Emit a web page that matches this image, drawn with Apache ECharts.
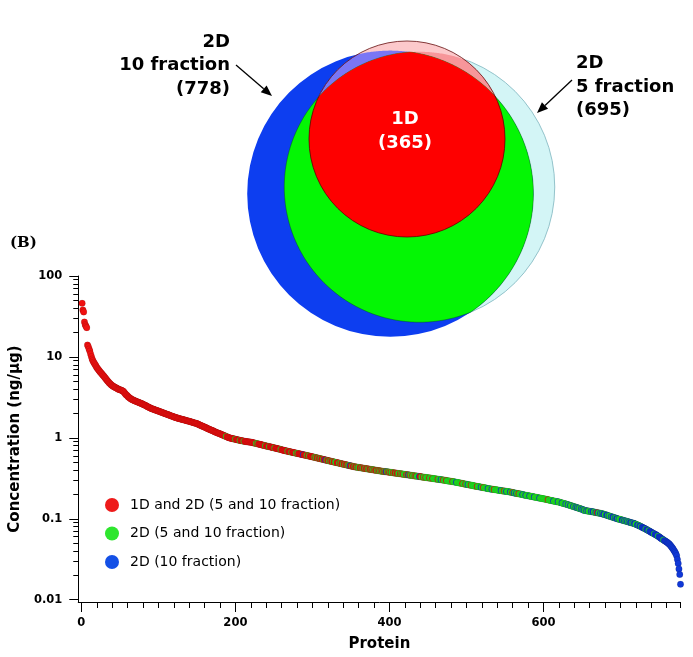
<!DOCTYPE html>
<html><head><meta charset="utf-8">
<script src="https://cdn.jsdelivr.net/npm/echarts@6/dist/echarts.min.js"></script>
<style>html,body{margin:0;padding:0;background:#fff}#c{width:693px;height:657px}</style>
</head><body><div id="c"></div>
<script>
// ---------------- DATA ----------------
const vennNames = ['2D\n10 fraction', '2D\n5 fraction', '1D'];
const vennCounts = [778, 695, 365];
const seriesNames = ['1D and 2D (5 and 10 fraction)', '2D (5 and 10 fraction)', '2D (10 fraction)'];
const xTickValues = [0, 200, 400, 600];
const xTickLabels = ['0', '200', '400', '600'];
const yTickValues = [0.01, 0.1, 1, 10, 100];
const yTickLabels = ['0.01', '0.1', '1', '10', '100'];

// protein concentration (ng/µg), rank 1..778
const concentration = [
46,38,36,27,25,24,23,14,13.4,12.5,
11.8,10.9,10.1,9.4,9.0,8.6,8.3,8.0,7.7,7.4,
7.2,7.0,6.8,6.6,6.4,6.3,6.1,5.95,5.8,5.65,
5.5,5.35,5.2,5.05,4.95,4.8,4.7,4.6,4.5,4.42,
4.35,4.3,4.25,4.2,4.15,4.1,4.05,4.0,3.97,3.94,
3.9,3.87,3.83,3.78,3.7,3.6,3.5,3.42,3.35,3.28,
3.2,3.15,3.1,3.05,3.0,2.97,2.94,2.91,2.88,2.85,
2.83,2.8,2.78,2.75,2.73,2.7,2.68,2.65,2.63,2.6,
2.57,2.55,2.52,2.49,2.46,2.43,2.41,2.38,2.35,2.33,
2.3,2.28,2.27,2.25,2.23,2.21,2.19,2.18,2.16,2.14,
2.12,2.11,2.09,2.07,2.06,2.04,2.02,2.01,1.99,1.97,
1.96,1.94,1.93,1.91,1.89,1.88,1.86,1.85,1.83,1.82,
1.8,1.79,1.78,1.77,1.75,1.74,1.73,1.72,1.71,1.7,
1.69,1.68,1.67,1.66,1.65,1.64,1.63,1.62,1.61,1.6,
1.59,1.58,1.57,1.56,1.55,1.54,1.53,1.52,1.51,1.5,
1.48,1.47,1.45,1.44,1.42,1.41,1.4,1.38,1.37,1.36,
1.34,1.33,1.32,1.3,1.29,1.28,1.27,1.25,1.24,1.23,
1.22,1.21,1.19,1.18,1.17,1.16,1.15,1.14,1.13,1.12,
1.11,1.1,1.09,1.08,1.07,1.06,1.05,1.04,1.03,1.02,
1.01,1.0,0.995,0.99,0.985,0.98,0.975,0.97,0.965,0.96,
0.955,0.95,0.945,0.94,0.935,0.93,0.926,0.922,0.918,0.914,
0.91,0.906,0.902,0.899,0.896,0.893,0.891,0.889,0.887,0.885,
0.88,0.875,0.87,0.866,0.861,0.856,0.852,0.847,0.843,0.838,
0.834,0.829,0.825,0.82,0.816,0.812,0.807,0.803,0.799,0.794,
0.79,0.786,0.782,0.778,0.774,0.77,0.766,0.762,0.758,0.754,
0.75,0.746,0.742,0.738,0.734,0.73,0.726,0.722,0.718,0.714,
0.71,0.705,0.7,0.697,0.693,0.69,0.686,0.683,0.679,0.676,
0.673,0.669,0.666,0.663,0.659,0.656,0.653,0.65,0.647,0.643,
0.64,0.637,0.634,0.631,0.628,0.625,0.622,0.619,0.616,0.613,
0.61,0.607,0.604,0.601,0.598,0.595,0.592,0.589,0.586,0.583,
0.58,0.577,0.574,0.571,0.568,0.565,0.562,0.559,0.556,0.553,
0.55,0.547,0.544,0.541,0.539,0.536,0.533,0.53,0.527,0.525,
0.522,0.519,0.517,0.514,0.511,0.509,0.506,0.503,0.501,0.498,
0.496,0.493,0.491,0.488,0.486,0.483,0.481,0.478,0.476,0.473,
0.471,0.469,0.466,0.464,0.461,0.459,0.457,0.454,0.452,0.45,
0.448,0.445,0.443,0.44,0.438,0.437,0.435,0.434,0.432,0.431,
0.429,0.428,0.426,0.425,0.423,0.422,0.42,0.419,0.417,0.416,
0.414,0.413,0.411,0.41,0.408,0.407,0.405,0.404,0.403,0.401,
0.4,0.398,0.397,0.396,0.394,0.393,0.392,0.39,0.389,0.388,
0.386,0.385,0.384,0.383,0.382,0.381,0.38,0.379,0.378,0.376,
0.375,0.374,0.373,0.372,0.37,0.369,0.368,0.367,0.366,0.365,
0.363,0.362,0.361,0.36,0.359,0.358,0.357,0.355,0.354,0.353,
0.352,0.351,0.35,0.349,0.348,0.347,0.346,0.344,0.343,0.342,
0.341,0.34,0.339,0.338,0.337,0.336,0.335,0.334,0.333,0.332,
0.33,0.329,0.328,0.327,0.326,0.325,0.324,0.323,0.322,0.321,
0.32,0.319,0.318,0.317,0.316,0.315,0.314,0.313,0.312,0.311,
0.31,0.309,0.308,0.307,0.306,0.305,0.304,0.303,0.302,0.301,
0.3,0.299,0.298,0.297,0.295,0.294,0.293,0.292,0.291,0.29,
0.289,0.288,0.287,0.286,0.285,0.283,0.282,0.281,0.28,0.279,
0.277,0.276,0.275,0.274,0.273,0.271,0.27,0.269,0.268,0.267,
0.266,0.264,0.263,0.262,0.261,0.26,0.259,0.258,0.257,0.255,
0.254,0.253,0.252,0.251,0.25,0.249,0.248,0.247,0.246,0.245,
0.244,0.243,0.242,0.241,0.24,0.239,0.237,0.236,0.235,0.235,
0.234,0.233,0.232,0.231,0.231,0.23,0.229,0.228,0.228,0.227,
0.226,0.225,0.224,0.224,0.223,0.222,0.221,0.221,0.22,0.219,
0.219,0.218,0.217,0.217,0.216,0.215,0.214,0.213,0.212,0.211,
0.21,0.209,0.208,0.207,0.206,0.205,0.204,0.204,0.203,0.202,
0.201,0.2,0.199,0.198,0.197,0.196,0.195,0.194,0.194,0.193,
0.192,0.191,0.19,0.189,0.189,0.188,0.187,0.186,0.185,0.185,
0.184,0.183,0.182,0.181,0.181,0.18,0.179,0.178,0.177,0.177,
0.176,0.175,0.174,0.173,0.173,0.172,0.171,0.17,0.169,0.168,
0.168,0.167,0.166,0.165,0.165,0.164,0.163,0.162,0.162,0.161,
0.16,0.159,0.158,0.157,0.156,0.155,0.154,0.153,0.152,0.151,
0.15,0.149,0.148,0.147,0.146,0.145,0.144,0.143,0.142,0.141,
0.14,0.139,0.138,0.137,0.136,0.135,0.134,0.133,0.132,0.131,
0.13,0.128,0.127,0.127,0.126,0.126,0.125,0.125,0.124,0.124,
0.123,0.123,0.122,0.122,0.121,0.121,0.12,0.12,0.119,0.119,
0.118,0.118,0.117,0.117,0.116,0.115,0.115,0.114,0.113,0.112,
0.112,0.111,0.11,0.109,0.108,0.108,0.107,0.106,0.105,0.105,
0.104,0.103,0.102,0.102,0.101,0.1,0.0995,0.099,0.0985,0.098,
0.0973,0.0966,0.096,0.0954,0.0948,0.0942,0.0936,0.093,0.0924,0.0918,
0.0912,0.0906,0.09,0.0894,0.0888,0.0884,0.088,0.0872,0.0864,0.0856,
0.0848,0.084,0.0832,0.0824,0.0815,0.0806,0.0797,0.0788,0.0779,0.077,
0.0762,0.0754,0.0745,0.0736,0.0727,0.0718,0.0709,0.07,0.069,0.0682,
0.0674,0.0666,0.0658,0.065,0.0642,0.0634,0.0626,0.0618,0.061,0.0601,
0.0592,0.058,0.0572,0.0564,0.0556,0.0548,0.054,0.0532,0.0524,0.0516,
0.0508,0.05,0.049,0.048,0.0468,0.0455,0.0442,0.0428,0.0414,0.04,
0.0385,0.037,0.035,0.0315,0.028,0.024,0.0205,0.0155
];

// group of each protein (r = 1D and 2D, g = 2D 5&10, b = 2D 10 only), 10 per block
const groupBlocks = [
'rrrrrrrrrr','rrrrrrrrrr','rrrrrrrrrr','rrrrrrrrrr','rrrrrrrrrr','rrrrrrrrrr',
'rrrrrrrrrr','rrrrrrrrrr','rrrrrrrrrr','rrrrrrrrrr','rrrrrrrrrr','rrrrrrrrrr',
'rrrrrrrrrr','rrrrrrrrrr','rrrrrrrrrr','rrrrrrrrrr','rrrrrrrrrr','rrrrrrrrrr',
'rrrrrrrgrr','rrrrrrrrrg','rrrrrgrrrr','grrrrrrrrr','rrrrrrgrgr','rrrrrrrrgr',
'rrrgrrrrrr','grrrrrrrgr','rrrrrrrgrr','rrgrrrrrgr','grrrrrrbrr','rrgrrgrrrr',
'rrgrgrrgrr','grrgrrbrgr','rgrgrrgrrg','grrrgrgrrg','rrgrrgrgbr','rgrrgrrgrg',
'grrgrgrrgr','rgrgrrgrgr','grrgrgrgrg','rgrgrbgrgr','grggrgrrgr','rggrgrgrgg',
'grgrbgrggr','ggrgrgggbr','rggrggrggg','grgggrgggg','ggrgggbggr','gggrgggggg',
'grggggbggg','ggggrgggrg','gbgggrgggg','gggrggggbg','grgggggbgg','ggbggrgggg',
'ggggbgggrg','gbggggbggr','gbggbggrgg','ggbgggbggg','gbgggggbgg','ggggbggggg',
'gggggrgggg','ggbgggggbg','gggbggggbg','gbggbgggbg','gbgbgbggbg','bgbggbgbgg',
'gbgbbggbgr','bggbgbgbbg','gbbgbggbgb','bgbgbbgbgg','gbbgbgbgbg','bgbbgbgbbg',
'gbbgbbgbbb','bbgbbbgbbb','bbbgbbbbgb','bbbbbgbbbb','bbbbbbbbbb','bbbbbbbb'
];

// ---------------- STYLE / LAYOUT ----------------
const dotColors = { r: '#f01010', g: '#22ee22', b: '#1038d8' };
const legendColors = ['#ee1a1a', '#2ee62e', '#1450e6'];
const vennLayout = [ { cx: 190.3, cy: 173.7 }, { cx: 219.5, cy: 167 }, { cx: 207, cy: 119 } ];
const VENN_SCALE = 5.13;
const FONT = 'DejaVu Sans';

const groups = groupBlocks.join('');

function intersect(circles) {
  const pts = [];
  const N = 720;
  circles.forEach((c, i) => {
    for (let k = 0; k < N; k++) {
      const a = k / N * Math.PI * 2;
      const p = [c.cx + c.r * Math.cos(a), c.cy + c.r * Math.sin(a)];
      if (circles.every((o, j) => j === i || Math.hypot(p[0] - o.cx, p[1] - o.cy) <= o.r + 1e-6)) pts.push(p);
    }
  });
  if (!pts.length) return [];
  let mx = 0, my = 0;
  pts.forEach(p => { mx += p[0]; my += p[1]; });
  mx /= pts.length; my /= pts.length;
  pts.sort((p, q) => Math.atan2(p[1] - my, p[0] - mx) - Math.atan2(q[1] - my, q[0] - mx));
  return pts;
}

function renderVenn(params, api) {
  const c = vennLayout.map((l, i) => {
    const p = api.coord([l.cx, l.cy]);
    const r = api.size([VENN_SCALE * Math.sqrt(vennCounts[i]), 0])[0];
    return { cx: p[0], cy: p[1], r: r };
  });
  const B = c[0], C = c[1], R = c[2];
  return { type: 'group', children: [
    { type: 'circle', shape: C, style: { fill: '#d3f5f6', stroke: '#93c3cb', lineWidth: 1 } },
    { type: 'circle', shape: B, style: { fill: '#0d3ef0' } },
    { type: 'circle', shape: R, style: { fill: '#fcc9cb' } },
    { type: 'polygon', shape: { points: intersect([R, C]) }, style: { fill: '#f7969a' } },
    { type: 'polygon', shape: { points: intersect([R, B]) }, style: { fill: '#7a76f5' } },
    { type: 'polygon', shape: { points: intersect([B, C]) }, style: { fill: '#04f604', stroke: 'rgba(0,70,0,0.5)', lineWidth: 0.8 } },
    { type: 'polygon', shape: { points: intersect([R, B, C]) }, style: { fill: '#fe0000' } },
    { type: 'circle', shape: R, style: { fill: null, stroke: 'rgba(90,0,0,0.75)', lineWidth: 1 } }
  ]};
}

function arrow(x1, y1, x2, y2) {
  const L = Math.hypot(x2 - x1, y2 - y1), dx = (x2 - x1) / L, dy = (y2 - y1) / L;
  const hl = 11, hw = 4.5, bx = x2 - dx * hl, by = y2 - dy * hl;
  return [
    { type: 'line', shape: { x1: x1, y1: y1, x2: bx, y2: by }, style: { stroke: '#000', lineWidth: 1.3 } },
    { type: 'polygon', shape: { points: [[x2, y2], [bx - dy * hw, by + dx * hw], [bx + dy * hw, by - dx * hw]] }, style: { fill: '#000' } }
  ];
}

const labelText = (v, vals, labs) => {
  for (let i = 0; i < vals.length; i++) if (Math.abs(Math.log10(v) - Math.log10(vals[i])) < 1e-6) return labs[i];
  return '';
};

const minorX = [];
for (let v = 20; v < 778; v += 20) minorX.push(v);
minorX.push(778);
const minorY = [];
[0.01, 0.1, 1, 10].forEach(d => { for (let k = 2; k <= 9; k++) minorY.push(+(d * k).toPrecision(3)); });

const scatterData = concentration.map((v, i) => ({
  value: [i + 1, v],
  itemStyle: { color: dotColors[groups[i] || 'g'] }
}));

const chart = echarts.init(document.getElementById('c'), null, { renderer: 'canvas' });
chart.setOption({
  animation: false,
  backgroundColor: '#fff',
  grid: [
    { left: 77, top: 276, width: 603.5, height: 329 },
    { left: 200, top: 20, width: 400, height: 340 }
  ],
  xAxis: [
    { type: 'value', gridIndex: 0, min: -4, max: 778, position: 'bottom',
      axisLine: { onZero: false, lineStyle: { color: '#000', width: 1 } },
      axisTick: { customValues: xTickValues, length: 10, lineStyle: { color: '#000' } },
      axisLabel: { customValues: xTickValues, formatter: v => xTickLabels[xTickValues.indexOf(Math.round(v))] || '',
        margin: 15, color: '#000', fontFamily: FONT, fontWeight: 'bold', fontSize: 11.5 },
      splitLine: { show: false },
      name: 'Protein', nameLocation: 'middle', nameGap: 35,
      nameTextStyle: { color: '#000', fontFamily: FONT, fontWeight: 'bold', fontSize: 15 } },
    { type: 'value', gridIndex: 0, min: -4, max: 778, position: 'bottom',
      axisLine: { show: false, onZero: false },
      axisTick: { customValues: minorX, length: 6, lineStyle: { color: '#000' } },
      axisLabel: { show: false }, splitLine: { show: false } },
    { type: 'value', gridIndex: 1, min: 0, max: 400, show: false }
  ],
  yAxis: [
    { type: 'log', logBase: 10, gridIndex: 0, min: 0.00937, max: 100, position: 'left',
      axisLine: { show: true, onZero: false, lineStyle: { color: '#000', width: 1 } },
      axisTick: { show: true, customValues: yTickValues, length: 9, lineStyle: { color: '#000' } },
      axisLabel: { customValues: yTickValues, formatter: v => labelText(v, yTickValues, yTickLabels),
        margin: 16, color: '#000', fontFamily: FONT, fontWeight: 'bold', fontSize: 11.5 },
      splitLine: { show: false },
      name: 'Concentration (ng/µg)', nameLocation: 'middle', nameGap: 49,
      nameTextStyle: { color: '#000', fontFamily: FONT, fontWeight: 'bold', fontSize: 15 } },
    { type: 'log', logBase: 10, gridIndex: 0, min: 0.00937, max: 100, position: 'left',
      axisLine: { show: false, onZero: false },
      axisTick: { show: true, customValues: minorY, length: 5, lineStyle: { color: '#000' } },
      axisLabel: { show: false }, splitLine: { show: false } },
    { type: 'value', gridIndex: 1, min: 0, max: 340, inverse: true, show: false }
  ],
  legend: {
    data: seriesNames, orient: 'vertical', left: 105, top: 498, padding: 0,
    itemWidth: 14, itemHeight: 14, itemGap: 14.5, icon: 'circle',
    textStyle: { color: '#000', fontFamily: FONT, fontSize: 14, padding: [0, 0, 0, 6] }
  },
  series: [
    { type: 'scatter', name: 'proteins', xAxisIndex: 0, yAxisIndex: 0, data: scatterData,
      symbol: 'circle', symbolSize: 6.5, itemStyle: { borderColor: 'rgba(0,0,0,0.22)', borderWidth: 0.5, opacity: 1 }, silent: true },
    { type: 'scatter', name: seriesNames[0], data: [], itemStyle: { color: legendColors[0], opacity: 1 } },
    { type: 'scatter', name: seriesNames[1], data: [], itemStyle: { color: legendColors[1], opacity: 1 } },
    { type: 'scatter', name: seriesNames[2], data: [], itemStyle: { color: legendColors[2], opacity: 1 } },
    { type: 'custom', name: 'venn', xAxisIndex: 2, yAxisIndex: 2, data: [[0, 0]], renderItem: renderVenn, silent: true, clip: false, z: 5 }
  ],
  graphic: [
    { type: 'text', x: 230, y: 65.5, style: { text: vennNames[0] + '\n(' + vennCounts[0] + ')', align: 'right', verticalAlign: 'middle',
      fontFamily: FONT, fontWeight: 'bold', fontSize: 18, lineHeight: 23.5, fill: '#000' } },
    { type: 'text', x: 576, y: 87, style: { text: vennNames[1] + '\n(' + vennCounts[1] + ')', align: 'left', verticalAlign: 'middle',
      fontFamily: FONT, fontWeight: 'bold', fontSize: 18, lineHeight: 23.5, fill: '#000' } },
    { type: 'text', x: 405, y: 131.5, z: 100, style: { text: vennNames[2] + '\n(' + vennCounts[2] + ')', align: 'center', verticalAlign: 'middle',
      fontFamily: FONT, fontWeight: 'bold', fontSize: 18, lineHeight: 24, fill: '#fff' } },
    { type: 'text', x: 10, y: 243, style: { text: '(B)', verticalAlign: 'middle', fontFamily: 'DejaVu Serif', fontWeight: 'bold', fontSize: 15, fill: '#000' } }
  ].concat(arrow(236, 65, 272, 96), arrow(572, 80, 537, 113))
});
</script></body></html>
